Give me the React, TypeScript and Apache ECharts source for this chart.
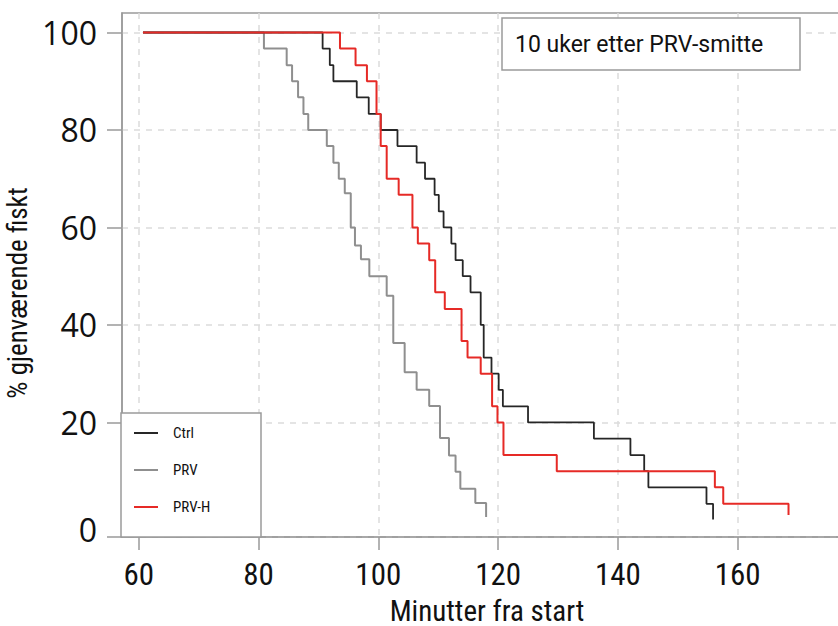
import React, { useEffect, useRef } from "react";
import * as echarts from "echarts";

// ---- data ----
const seriesNames = ["Ctrl", "PRV", "PRV-H"];

const ctrlTimes = [60.7, 90.7, 91.9, 92.5, 96.4, 98.4, 100.4, 103.2, 106.4, 107.8, 109.4, 110.1, 110.9, 112.2, 112.9, 114.1, 115.4, 117.1, 117.6, 118.9, 120.1, 120.8, 125.0, 136.0, 142.1, 144.4, 145.1, 154.8, 155.9];
const ctrlSurv = [100, 96.7, 93.3, 90, 86.7, 83.3, 80, 76.7, 73.3, 70, 66.7, 63.3, 60, 56.7, 53.3, 50, 46.7, 40, 33.3, 30, 26.7, 23.3, 20, 16.7, 13.3, 10, 6.7, 3.3, 0.1];

const prvTimes = [60.7, 80.9, 84.7, 85.6, 86.6, 87.5, 88.3, 91.4, 92.5, 93.4, 94.4, 95.4, 96.1, 97.1, 98.5, 101.4, 102.5, 104.4, 106.4, 108.5, 110.3, 111.8, 112.9, 113.7, 116.2, 118.0];
const prvSurv = [100, 96.7, 93.3, 90, 86.7, 83.3, 80, 76.7, 73.3, 70, 67, 60, 56.3, 53.5, 50, 46, 36.3, 30.3, 26.7, 23.4, 16.8, 13.2, 9.9, 6.4, 3.5, 0.6];

const prvhTimes = [60.7, 93.6, 96.2, 98.1, 99.7, 100.4, 101.4, 103.4, 105.7, 106.6, 108.5, 109.5, 111.1, 113.9, 114.9, 117.1, 119.0, 119.9, 120.9, 129.8, 156.2, 157.6, 168.5];
const prvhSurv = [100, 96.7, 93.3, 90, 83.3, 76.7, 70, 66.7, 60, 56.7, 53.3, 46.7, 43.3, 36.7, 33.3, 30, 23.3, 20, 13.3, 10, 6.7, 3.3, 1.0];

const xTickValues = [60, 80, 100, 120, 140, 160];
const yTickValues = [-3.5, 20, 40, 60, 80, 100];
const yLabelValues = [-2, 20, 40, 60, 80, 100];
const yLabelTexts = ["0", "20", "40", "60", "80", "100"];

const titleText = "10 uker etter PRV-smitte";
const xName = "Minutter fra start";
const yName = "% gjenværende fiskt";

const NARROW = "'Liberation Sans Narrow', 'Roboto Condensed', 'DejaVu Sans Condensed', sans-serif";
const AXIS_GRAY = "#9a9a9a";

const pairs = (t: number[], s: number[]) => t.map((v, i) => [v, s[i]]);

export default function App() {
  const ref = useRef<HTMLDivElement>(null);

  useEffect(() => {
    if (!ref.current) return;
    const chart = echarts.init(ref.current, null, { renderer: "svg" });

    const lineSeries = (name: string, data: number[][], color: string, width: number, z: number) => ({
      name,
      type: "line",
      step: "end",
      data,
      symbol: "none",
      z,
      color,
      itemStyle: { color },
      lineStyle: { color, width },
    });

    chart.setOption({
      animation: false,
      backgroundColor: "#fff",
      grid: {
        left: 122,
        top: 13,
        width: 730,
        height: 524,
        show: true,
        outerBoundsMode: "none",
        containLabel: false,
        borderColor: AXIS_GRAY,
        borderWidth: 1.5,
        backgroundColor: "transparent",
      },
      xAxis: {
        type: "value",
        min: 57.2,
        max: 179.1,
        name: xName,
        nameLocation: "middle",
        nameGap: 59,
        nameTextStyle: { fontFamily: NARROW, fontSize: 29, color: "#111" },
        axisLine: { show: true, onZero: false, lineStyle: { color: AXIS_GRAY, width: 1.5 } },
        axisTick: { show: true, customValues: xTickValues, length: 13, lineStyle: { color: AXIS_GRAY, width: 1.5 } },
        axisLabel: { customValues: xTickValues, margin: 22, fontFamily: NARROW, fontSize: 31, color: "#111" },
        splitLine: { show: true, lineStyle: { color: "#dcdcdc", width: 1.5, type: [6, 6] } },
      },
      yAxis: {
        type: "value",
        min: -3.5,
        max: 104,
        name: yName,
        nameLocation: "middle",
        nameGap: 76,
        nameTextStyle: { fontFamily: NARROW, fontSize: 27, color: "#111", padding: [0, 36, 0, 0] },
        axisLine: { show: true, onZero: false, lineStyle: { color: AXIS_GRAY, width: 1.5 } },
        axisTick: { show: true, customValues: yTickValues, length: 15, lineStyle: { color: AXIS_GRAY, width: 1.5 } },
        axisLabel: {
          customValues: yLabelValues,
          margin: 25,
          fontFamily: "'Open Sans', sans-serif",
          fontSize: 32,
          color: "#111",
          formatter: (v: number) => {
            const i = yLabelValues.indexOf(v);
            return i >= 0 ? yLabelTexts[i] : String(v);
          },
        },
        splitLine: { show: true, lineStyle: { color: "#dcdcdc", width: 1.5, type: [6, 6] } },
      },
      legend: {
        data: seriesNames,
        orient: "vertical",
        left: 121,
        top: 413,
        padding: [12, 38, 22, 13],
        itemGap: 21,
        itemWidth: 24,
        itemHeight: 2,
        icon: "rect",
        backgroundColor: "#fff",
        borderColor: AXIS_GRAY,
        borderWidth: 1.5,
        borderRadius: 0,
        textStyle: { fontFamily: NARROW, fontSize: 15, color: "#111", lineHeight: 16, width: 50, padding: [0, 0, 0, 10] },
      },
      graphic: [
        {
          type: "rect",
          z: 10,
          shape: { x: 502, y: 18, width: 298, height: 52 },
          style: { fill: "#fff", stroke: AXIS_GRAY, lineWidth: 1.5 },
        },
        {
          type: "text",
          z: 11,
          x: 515,
          y: 44,
          style: { text: titleText, fontFamily: "Roboto, sans-serif", fontSize: 23, fill: "#111", verticalAlign: "middle", align: "left" },
        },
      ],
      series: [
        lineSeries("PRV", pairs(prvTimes, prvSurv), "#8f8f8f", 2, 2),
        lineSeries("Ctrl", pairs(ctrlTimes, ctrlSurv), "#262626", 1.8, 3),
        lineSeries("PRV-H", pairs(prvhTimes, prvhSurv), "#e62a26", 2, 4),
      ],
    });

    return () => chart.dispose();
  }, []);

  return <div ref={ref} style={{ position: "fixed", left: 0, top: 0, width: 838, height: 626 }} />;
}
